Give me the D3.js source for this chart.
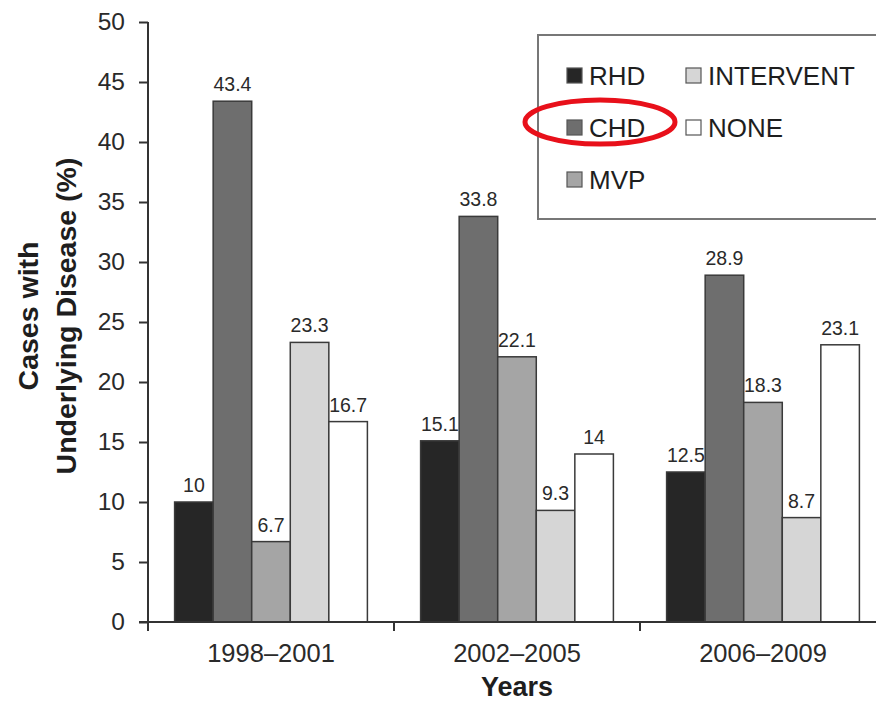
<!DOCTYPE html>
<html>
<head>
<meta charset="utf-8">
<script src="https://cdn.jsdelivr.net/npm/d3@7/dist/d3.min.js"></script>
<style>
  html, body { margin: 0; padding: 0; background: #fff; }
  svg { display: block; font-family: "Liberation Sans", Arial, Helvetica, sans-serif; }
</style>
</head>
<body>
<svg id="chart" width="876" height="704"></svg>
<script>
// Periods on the x axis
const periods = ["1998\u20132001", "2002\u20132005", "2006\u20132009"];
// Underlying disease categories (legend order)
const diseases = ["RHD", "CHD", "MVP", "INTERVENT", "NONE"];
// Percentage of cases per category, one array per period
const rhd       = [10, 15.1, 12.5];
const chd       = [43.4, 33.8, 28.9];
const mvp       = [6.7, 22.1, 18.3];
const intervent = [23.3, 9.3, 8.7];
const none      = [16.7, 14, 23.1];
const yTicks = [0, 5, 10, 15, 20, 25, 30, 35, 40, 45, 50];
const fills = ["#262626", "#6e6e6e", "#a5a5a5", "#d6d6d6", "#ffffff"];

const seriesValues = [rhd, chd, mvp, intervent, none];
const rows = periods.map((p, i) => ({
  period: p,
  bars: diseases.map((d, j) => ({ disease: d, value: seriesValues[j][i] }))
}));

const svg = d3.select("#chart");
const plotLeft = 148, plotBottom = 622, plotTop = 22, plotRight = 886;

const y = d3.scaleLinear().domain([0, 50]).range([plotBottom, plotTop]);
const x0 = d3.scaleBand().domain(periods).range([plotLeft, plotRight]).padding(0);
const x1 = d3.scaleBand().domain(diseases).range([0, x0.bandwidth()])
  .paddingInner(0).paddingOuter(0.69);
const color = d3.scaleOrdinal().domain(diseases).range(fills);

// Bars
const groups = svg.append("g").selectAll("g").data(rows).join("g")
  .attr("transform", d => `translate(${x0(d.period)},0)`);

groups.selectAll("rect").data(d => d.bars).join("rect")
  .attr("x", d => x1(d.disease))
  .attr("y", d => y(d.value))
  .attr("width", x1.bandwidth())
  .attr("height", d => y(0) - y(d.value))
  .attr("fill", d => color(d.disease))
  .attr("stroke", "#3a3a3a")
  .attr("stroke-width", 1.5);

// Value labels
groups.selectAll("text").data(d => d.bars).join("text")
  .attr("x", d => x1(d.disease) + x1.bandwidth() / 2)
  .attr("y", d => y(d.value) - 10)
  .attr("text-anchor", "middle")
  .attr("font-size", 19.5)
  .attr("fill", "#2a2a2a")
  .text(d => d.value);

// Y axis
const yAxis = svg.append("g")
  .attr("transform", `translate(${plotLeft},0)`)
  .call(d3.axisLeft(y).tickValues(yTicks).tickSize(9).tickPadding(14));
yAxis.select(".domain").attr("stroke", "#333").attr("stroke-width", 2)
  .attr("d", `M0,${plotTop}V${plotBottom}`);
yAxis.selectAll(".tick line").attr("stroke", "#333").attr("stroke-width", 2);
yAxis.selectAll(".tick text").attr("font-size", 24.5).attr("fill", "#2a2a2a")
  .attr("font-family", "Liberation Sans, Arial, sans-serif");

// X axis: line with ticks at group boundaries
const xg = svg.append("g");
xg.append("line")
  .attr("x1", plotLeft - 9).attr("x2", plotRight)
  .attr("y1", plotBottom).attr("y2", plotBottom)
  .attr("stroke", "#333").attr("stroke-width", 2);
const boundaries = periods.map(p => x0(p));
xg.selectAll("line.tk").data(boundaries).join("line")
  .attr("class", "tk")
  .attr("x1", d => d).attr("x2", d => d)
  .attr("y1", plotBottom).attr("y2", plotBottom + 9)
  .attr("stroke", "#333").attr("stroke-width", 2);
xg.selectAll("text").data(periods).join("text")
  .attr("x", d => x0(d) + x0.bandwidth() / 2)
  .attr("y", 662)
  .attr("text-anchor", "middle")
  .attr("font-size", 25.5)
  .attr("fill", "#2a2a2a")
  .text(d => d);

// Axis titles
svg.append("text")
  .attr("x", 517).attr("y", 696)
  .attr("text-anchor", "middle")
  .attr("font-size", 27).attr("font-weight", "bold").attr("fill", "#1e1e1e")
  .text("Years");

const yt = svg.append("text")
  .attr("transform", "translate(0,316) rotate(-90)")
  .attr("text-anchor", "middle")
  .attr("font-size", 28.5).attr("font-weight", "bold").attr("fill", "#1e1e1e");
yt.append("tspan").attr("x", 0).attr("y", 38).text("Cases with");
yt.append("tspan").attr("x", 0).attr("y", 76).text("Underlying Disease (%)");

// Legend
const legend = svg.append("g");
legend.append("rect")
  .attr("x", 538).attr("y", 35).attr("width", 360).attr("height", 184)
  .attr("fill", "#fff").attr("stroke", "#777").attr("stroke-width", 2);

const legendPos = [
  { col: 567, row: 76 },  // RHD
  { col: 567, row: 128 }, // CHD
  { col: 567, row: 180 }, // MVP
  { col: 686, row: 76 },  // INTERVENT
  { col: 686, row: 128 }  // NONE
];
const items = legend.selectAll("g.item").data(diseases).join("g")
  .attr("class", "item")
  .attr("transform", (d, i) => `translate(${legendPos[i].col},${legendPos[i].row})`);
items.append("rect")
  .attr("x", 0).attr("y", -8).attr("width", 15).attr("height", 15)
  .attr("fill", d => color(d)).attr("stroke", "#555").attr("stroke-width", 1.2);
items.append("text")
  .attr("x", 22).attr("y", 9)
  .attr("font-size", 26).attr("fill", "#1e1e1e")
  .text(d => d);

// Highlight around CHD
svg.append("ellipse")
  .attr("cx", 600).attr("cy", 122)
  .attr("rx", 75).attr("ry", 22)
  .attr("fill", "none").attr("stroke", "#e8101a").attr("stroke-width", 5);
</script>
</body>
</html>
